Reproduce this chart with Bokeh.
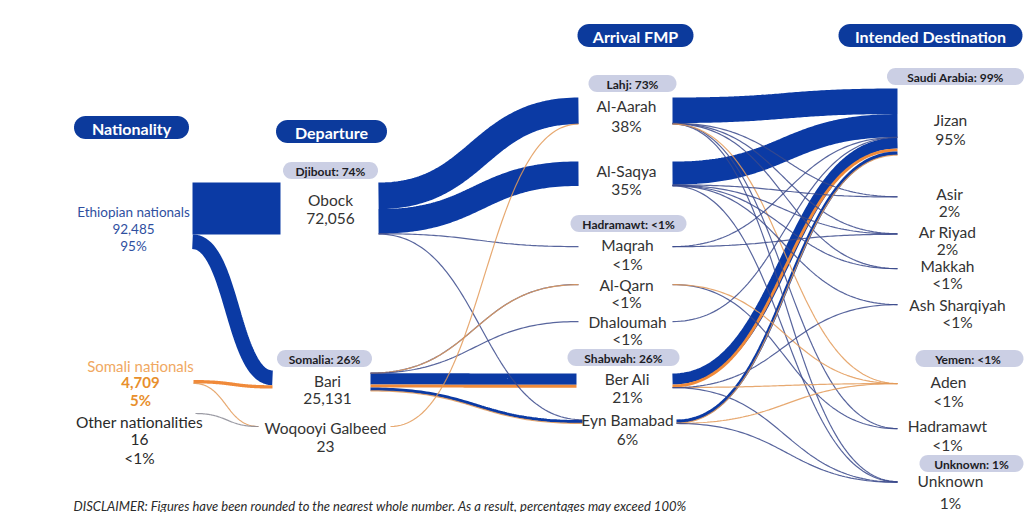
import numpy as np
from bokeh.plotting import figure
from bokeh.models import ColumnDataSource, Range1d
from bokeh.core.properties import value
from bokeh.embed import file_html
from bokeh.resources import INLINE

# ---------------- data ----------------
stage_titles = ["Nationality", "Departure", "Arrival FMP", "Intended Destination"]

nationalities = ["Ethiopian nationals", "Somali nationals", "Other nationalities"]
nationality_counts = ["92,485", "4,709", "16"]
nationality_pcts = ["95%", "5%", "<1%"]

departures = ["Obock", "Bari", "Woqooyi Galbeed"]
departure_counts = ["72,056", "25,131", "23"]
departure_groups = ["Djibout: 74%", "Somalia: 26%"]

arrivals = ["Al-Aarah", "Al-Saqya", "Maqrah", "Al-Qarn", "Dhaloumah", "Ber Ali", "Eyn Bamabad"]
arrival_pcts = ["38%", "35%", "<1%", "<1%", "<1%", "21%", "6%"]
arrival_groups = ["Lahj: 73%", "Hadramawt: <1%", "Shabwah: 26%"]

destinations = ["Jizan", "Asir", "Ar Riyad", "Makkah", "Ash Sharqiyah", "Aden", "Hadramawt", "Unknown"]
destination_pcts = ["95%", "2%", "2%", "<1%", "<1%", "<1%", "<1%", "1%"]
destination_groups = ["Saudi Arabia: 99%", "Yemen:  <1%", "Unknown: 1%"]

disclaimer = "DISCLAIMER: Figures have been rounded to the nearest whole number. As a result, percentages may exceed 100%"

# flows: source, target, people, nationality group (E=Ethiopian, S=Somali, O=Other)
flow_source = [
    "Ethiopian nationals", "Ethiopian nationals", "Somali nationals", "Somali nationals", "Other nationalities",
    "Obock", "Obock", "Obock", "Obock",
    "Bari", "Bari", "Bari", "Bari", "Bari", "Bari", "Bari",
    "Woqooyi Galbeed",
    "Al-Aarah", "Al-Aarah", "Al-Aarah", "Al-Aarah", "Al-Aarah", "Al-Aarah", "Al-Aarah",
    "Al-Saqya", "Al-Saqya", "Al-Saqya", "Al-Saqya", "Al-Saqya", "Al-Saqya",
    "Maqrah", "Maqrah",
    "Al-Qarn", "Al-Qarn",
    "Dhaloumah",
    "Ber Ali", "Ber Ali", "Ber Ali", "Ber Ali", "Ber Ali",
    "Eyn Bamabad", "Eyn Bamabad", "Eyn Bamabad", "Eyn Bamabad",
]
flow_target = [
    "Obock", "Bari", "Bari", "Woqooyi Galbeed", "Woqooyi Galbeed",
    "Al-Aarah", "Al-Saqya", "Maqrah", "Eyn Bamabad",
    "Al-Qarn", "Al-Qarn", "Dhaloumah", "Ber Ali", "Ber Ali", "Eyn Bamabad", "Eyn Bamabad",
    "Al-Aarah",
    "Jizan", "Asir", "Ar Riyad", "Makkah", "Hadramawt", "Unknown", "Aden",
    "Jizan", "Asir", "Ar Riyad", "Makkah", "Ash Sharqiyah", "Unknown",
    "Jizan", "Ar Riyad",
    "Hadramawt", "Aden",
    "Jizan",
    "Jizan", "Jizan", "Aden", "Unknown", "Ash Sharqiyah",
    "Jizan", "Jizan", "Aden", "Unknown",
]
flow_value = [
    72056, 20429, 4702, 7, 16,
    36930, 34010, 330, 786,
    150, 40, 180, 15700, 4110, 4399, 552,
    23,
    35500, 400, 400, 150, 120, 360, 23,
    32200, 600, 600, 150, 160, 300,
    200, 130,
    150, 40,
    180,
    15300, 4050, 60, 300, 100,
    4885, 500, 52, 300,
]
flow_group = [
    "E", "E", "S", "S", "O",
    "E", "E", "E", "E",
    "E", "S", "E", "E", "S", "E", "S",
    "S",
    "E", "E", "E", "E", "E", "E", "S",
    "E", "E", "E", "E", "E", "E",
    "E", "E",
    "E", "S",
    "E",
    "E", "S", "S", "E", "E",
    "E", "S", "S", "E",
]

# ---------------- layout (pixel space) ----------------
SCALE = 0.00072   # px per person
THIN = 1.2

port_out = {
    "Ethiopian nationals": (192, 182), "Somali nationals": (193, 379.5), "Other nationalities": (195, 413),
    "Obock": (378, 182), "Bari": (370, 372.5), "Woqooyi Galbeed": (390, 426),
    "Al-Aarah": (672, 97), "Al-Saqya": (672, 161), "Maqrah": (672, 246), "Al-Qarn": (672, 284),
    "Dhaloumah": (672, 321), "Ber Ali": (672, 373), "Eyn Bamabad": (676, 419),
}
port_in = {
    "Obock": (280, 182), "Bari": (272, 370), "Woqooyi Galbeed": (258, 426),
    "Al-Aarah": (578, 97), "Al-Saqya": (578, 161), "Maqrah": (578, 246), "Al-Qarn": (578, 284),
    "Dhaloumah": (578, 321), "Ber Ali": (576, 373), "Eyn Bamabad": (582, 419),
    "Jizan": (897, 88), "Asir": (897, 196), "Ar Riyad": (897, 233), "Makkah": (897, 268),
    "Ash Sharqiyah": (897, 304), "Aden": (897, 383), "Hadramawt": (897, 428), "Unknown": (897, 481),
}

COL = {"E": "#0b3aa4", "S": "#f08a3a", "O": "#8a8a94"}
THIN_COL = {"E": "#3b4a8c", "S": "#e39a58", "O": "#8a8a94"}

# ---------------- compute flow paths ----------------
off_out = {k: 0.0 for k in port_out}
off_in = {k: 0.0 for k in port_in}
t = np.linspace(0, 1, 80)
thick = dict(xs=[], ys=[], w=[], c=[])
thin = dict(xs=[], ys=[], w=[], c=[])
for s, g_t, v, g in zip(flow_source, flow_target, flow_value, flow_group):
    w = v * SCALE
    x0, yt0 = port_out[s]
    x1, yt1 = port_in[g_t]
    y0 = yt0 + off_out[s] + w / 2
    y1 = yt1 + off_in[g_t] + w / 2
    off_out[s] += w
    off_in[g_t] += w
    dx = x1 - x0
    bx = ((1 - t) ** 3) * x0 + 3 * ((1 - t) ** 2) * t * (x0 + dx * 0.5) \
        + 3 * (1 - t) * t ** 2 * (x1 - dx * 0.5) + t ** 3 * x1
    by = y0 + (y1 - y0) * (3 * t ** 2 - 2 * t ** 3)
    if w >= 1.6:
        thick["xs"].append(list(bx)); thick["ys"].append(list(by))
        thick["w"].append(w); thick["c"].append(COL[g])
    else:
        thin["xs"].append(list(bx)); thin["ys"].append(list(by))
        thin["w"].append(THIN); thin["c"].append(THIN_COL[g])

# ---------------- figure ----------------
p = figure(width=1034, height=512, output_backend="svg", toolbar_location=None,
           x_range=Range1d(0, 1034), y_range=Range1d(512, 0),
           x_axis_location=None, y_axis_location=None, min_border=0)
p.grid.visible = False
p.outline_line_color = None
p.background_fill_color = "white"
p.border_fill_color = "white"

p.multi_line(xs="xs", ys="ys", line_width="w", line_color="c", line_cap="butt",
             source=ColumnDataSource(thick))
p.multi_line(xs="xs", ys="ys", line_width="w", line_color="c", line_alpha=0.85,
             source=ColumnDataSource(thin))


def pill(cx, cy, w, h, n=18):
    r = h / 2
    a = np.linspace(-np.pi / 2, np.pi / 2, n)
    xr = cx + w / 2 - r + r * np.cos(a)
    yr = cy + r * np.sin(a)
    xl = cx - w / 2 + r - r * np.cos(a)
    yl = cy - r * np.sin(a)
    return list(np.concatenate([xr, xl])), list(np.concatenate([yr, yl]))


# stage header pills
header_pos = [(131, 127, 115), (331, 131, 111), (635, 35, 116), (930, 35, 184)]
hx, hy = [], []
for (cx, cy, w) in header_pos:
    a, b = pill(cx, cy, w, 23)
    hx.append(a); hy.append(b)
p.patches(hx, hy, fill_color="#0c3a9c", line_color=None)
p.text(x=[c[0] for c in header_pos], y=[c[1] + 0.5 for c in header_pos], text=stage_titles,
       text_align="center", text_baseline="middle", text_color="white",
       text_font=value("Lato"), text_font_style="bold", text_font_size="16px")

# group badges
badge_text = departure_groups + arrival_groups + destination_groups
badge_pos = [(330, 170, 95), (324, 358, 95), (632, 83, 88), (628, 223, 116), (623, 357, 112),
             (955, 76, 137), (969, 358, 108), (971, 463, 104)]
bx_, by_ = [], []
for (cx, cy, w) in badge_pos:
    a, b = pill(cx, cy, w, 17)
    bx_.append(a); by_.append(b)
p.patches(bx_, by_, fill_color="#cbcfe4", line_color=None)
p.text(x=[c[0] for c in badge_pos], y=[c[1] + 0.5 for c in badge_pos], text=badge_text,
       text_align="center", text_baseline="middle", text_color="#1c1c24",
       text_font=value("Lato"), text_font_style="bold", text_font_size="12px")

# node labels (two lines each)
label_pos = {
    "Obock": (330, 199, 19), "Bari": (327, 380, 18), "Woqooyi Galbeed": (325, 427, 19),
    "Al-Aarah": (626, 105, 20), "Al-Saqya": (626, 170, 18), "Maqrah": (627, 244, 19),
    "Al-Qarn": (626, 284, 17), "Dhaloumah": (627, 321, 17), "Ber Ali": (627, 378, 18),
    "Eyn Bamabad": (627, 419, 19),
    "Jizan": (950, 119, 19), "Asir": (949, 193, 17), "Ar Riyad": (947, 231, 17),
    "Makkah": (947, 265, 17), "Ash Sharqiyah": (957, 304, 17), "Aden": (948, 381, 19),
    "Hadramawt": (947, 425, 19), "Unknown": (950, 480, 22),
}
names = departures + arrivals + destinations
seconds = departure_counts + arrival_pcts + destination_pcts
lx, ly, lt = [], [], []
for n, sec in zip(names, seconds):
    cx, cy, gap = label_pos[n]
    lx += [cx, cx]; ly += [cy, cy + gap]; lt += [n, sec]
p.text(x=lx, y=ly, text=lt, text_align="center", text_baseline="middle", text_color="#333333",
       text_font=value("Lato"), text_font_size="15.5px")

# nationality labels
nat_pos = [(133, 211, 17), (140, 365, 17), (139, 421, 18)]
nat_name_col = ["#2f4f9f", "#f0a862", "#2a2a2a"]
nat_num_col = ["#2f4f9f", "#e88f2c", "#2a2a2a"]
nat_num_style = ["normal", "bold", "normal"]
nat_size = ["13.5px", "15px", "15.5px"]
for (cx, cy, gap), nm, cnt, pct, c1, c2, st, fs in zip(nat_pos, nationalities, nationality_counts,
                                                       nationality_pcts, nat_name_col, nat_num_col,
                                                       nat_num_style, nat_size):
    p.text(x=[cx], y=[cy], text=[nm], text_align="center", text_baseline="middle",
           text_color=c1, text_font=value("Lato"), text_font_size=fs)
    p.text(x=[cx, cx], y=[cy + gap, cy + 2 * gap], text=[cnt, pct],
           text_align="center", text_baseline="middle", text_color=c2,
           text_font=value("Lato"), text_font_style=st, text_font_size=fs)

p.text(x=[73], y=[505], text=[disclaimer], text_align="left", text_baseline="middle",
       text_color="#2a2a2a", text_font=value("Lato"), text_font_style="italic",
       text_font_size="13px")

open("out.html", "w").write(file_html(p, INLINE))
